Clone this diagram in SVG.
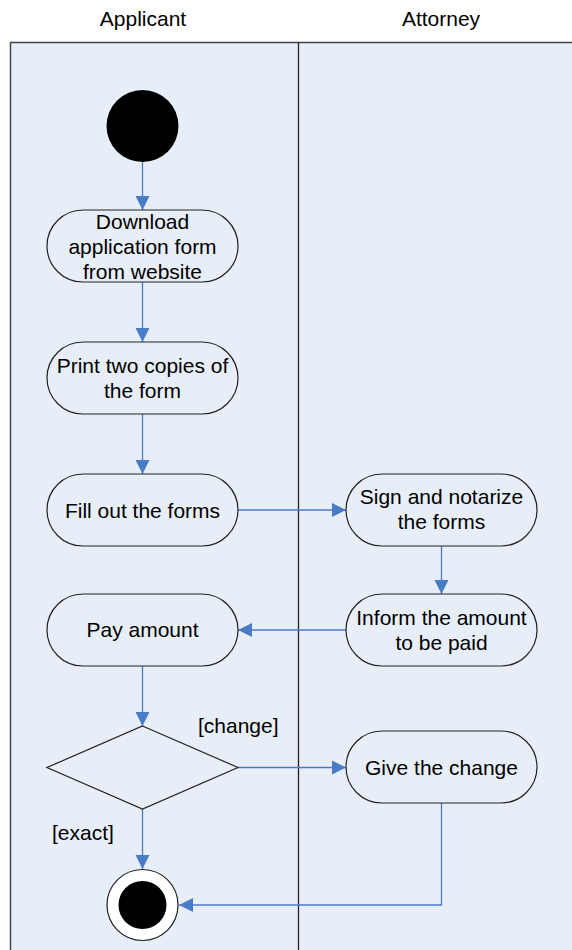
<svg xmlns="http://www.w3.org/2000/svg" width="572" height="950" viewBox="0 0 572 950">
<style>
text{font-family:"Liberation Sans",Arial,sans-serif;font-size:21px;fill:#000;}
.t{text-anchor:middle;}
.node{fill:#E8EEF8;stroke:#222;stroke-width:1.2;}
.conn{fill:none;stroke:#4A7CC6;stroke-width:1.3;}
</style>
<defs>
<marker id="ah" markerUnits="userSpaceOnUse" markerWidth="16" markerHeight="16" viewBox="0 0 16 16" refX="15" refY="8" orient="auto">
<path d="M1,1 L15,8 L1,15 Z" fill="#4A7CC6"/>
</marker>
</defs>
<rect x="0" y="0" width="572" height="950" fill="#fff"/>
<g id="lanes">
<rect x="10.5" y="42.5" width="600" height="950" fill="#E8EEF8" stroke="#444" stroke-width="1.5"/>
<line x1="298.5" y1="42" x2="298.5" y2="950" stroke="#222" stroke-width="1.3"/>
<text class="t" x="143" y="26">Applicant</text>
<text class="t" x="441" y="26">Attorney</text>
</g>
<g id="connectors">
<line class="conn" x1="142.5" y1="162" x2="142.5" y2="210" marker-end="url(#ah)"/>
<line class="conn" x1="142.5" y1="282" x2="142.5" y2="342" marker-end="url(#ah)"/>
<line class="conn" x1="142.5" y1="414" x2="142.5" y2="474" marker-end="url(#ah)"/>
<line class="conn" x1="238" y1="510" x2="346" y2="510" marker-end="url(#ah)"/>
<line class="conn" x1="441.5" y1="546" x2="441.5" y2="594" marker-end="url(#ah)"/>
<line class="conn" x1="346" y1="630" x2="238" y2="630" marker-end="url(#ah)"/>
<line class="conn" x1="142.5" y1="666" x2="142.5" y2="726" marker-end="url(#ah)"/>
<line class="conn" x1="238" y1="767.5" x2="346" y2="767.5" marker-end="url(#ah)"/>
<line class="conn" x1="142.5" y1="809" x2="142.5" y2="869" marker-end="url(#ah)"/>
<polyline class="conn" points="441.5,803 441.5,905 179,905" marker-end="url(#ah)"/>
<text x="198" y="733">[change]</text>
<text x="52" y="840">[exact]</text>
</g>
<g id="start"><circle cx="142.5" cy="126" r="36" fill="#000"/></g>
<g id="download">
<rect class="node" x="47" y="210" width="191" height="72" rx="36"/>
<text class="t" x="142.5" y="228.5">Download</text>
<text class="t" x="142.5" y="253.5">application form</text>
<text class="t" x="142.5" y="278.5">from website</text>
</g>
<g id="print">
<rect class="node" x="47" y="342" width="191" height="72" rx="36"/>
<text class="t" x="142.5" y="373">Print two copies of</text>
<text class="t" x="142.5" y="398">the form</text>
</g>
<g id="fill">
<rect class="node" x="47" y="474" width="191" height="72" rx="36"/>
<text class="t" x="142.5" y="517.5">Fill out the forms</text>
</g>
<g id="sign">
<rect class="node" x="346" y="474" width="191" height="72" rx="36"/>
<text class="t" x="441.5" y="504">Sign and notarize</text>
<text class="t" x="441.5" y="529">the forms</text>
</g>
<g id="inform">
<rect class="node" x="346" y="594" width="191" height="72" rx="36"/>
<text class="t" x="441.5" y="624.5">Inform the amount</text>
<text class="t" x="441.5" y="649.5">to be paid</text>
</g>
<g id="pay">
<rect class="node" x="47" y="594" width="191" height="72" rx="36"/>
<text class="t" x="142.5" y="637">Pay amount</text>
</g>
<g id="decision">
<polygon class="node" points="142.5,726 238,767.5 142.5,809 47,767.5"/>
</g>
<g id="give">
<rect class="node" x="346" y="731" width="191" height="72" rx="36"/>
<text class="t" x="441.5" y="774.5">Give the change</text>
</g>
<g id="end">
<circle cx="142.5" cy="905" r="35.5" fill="#fff" stroke="#222" stroke-width="1.2"/>
<circle cx="142.5" cy="905" r="24" fill="#000"/>
</g>
</svg>
